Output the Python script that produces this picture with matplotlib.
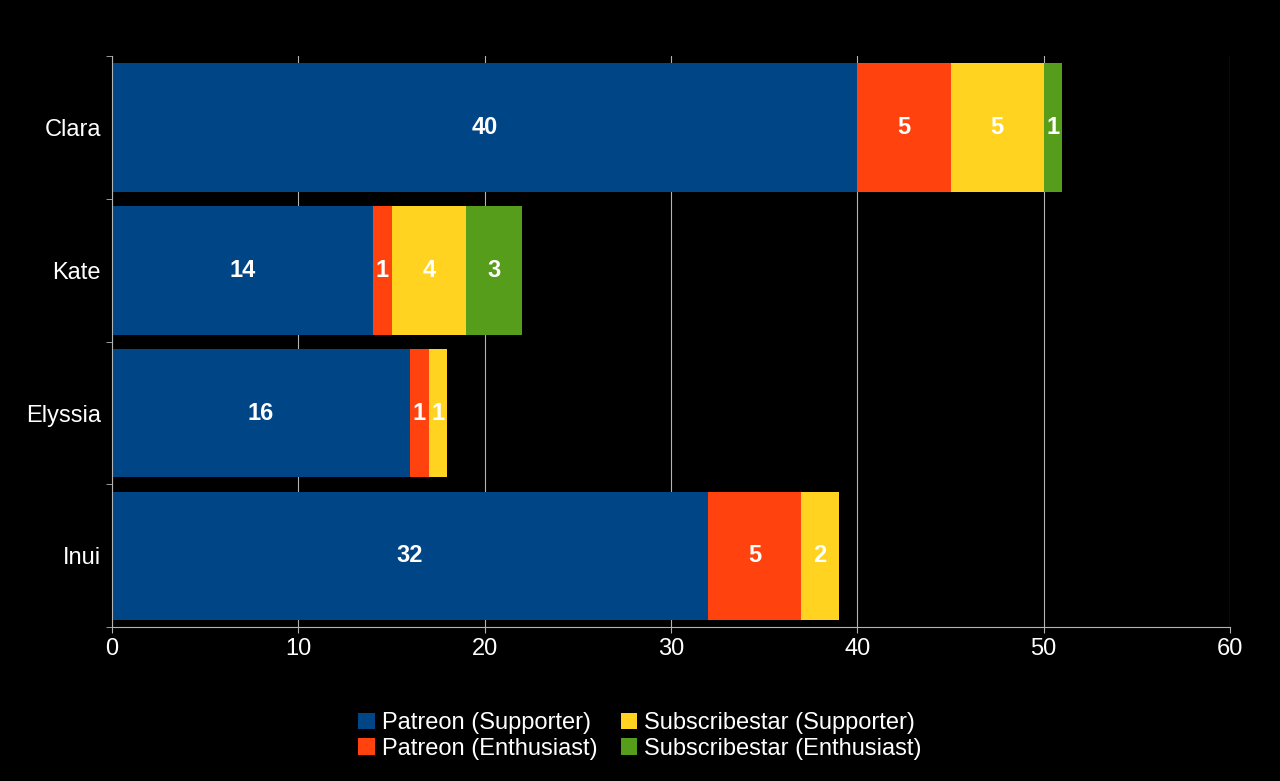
import matplotlib
matplotlib.use("Agg")
import matplotlib.pyplot as plt
import numpy as np

plt.rcParams['font.family'] = ['Liberation Sans', 'DejaVu Sans']

names = ["Clara", "Kate", "Elyssia", "Inui"]
series = ["Patreon (Supporter)", "Patreon (Enthusiast)",
          "Subscribestar (Supporter)", "Subscribestar (Enthusiast)"]
patreon_sup = [40, 14, 16, 32]
patreon_ent = [5, 1, 1, 5]
subs_sup = [5, 4, 1, 2]
subs_ent = [1, 3, 0, 0]
colors = ["#004586", "#ff420e", "#ffd320", "#579d1c"]

fig = plt.figure(figsize=(12.8, 7.81), dpi=100, facecolor="black")
ax = fig.add_axes([0.0875, 0.197, 0.8735, 0.731], facecolor="black")

y = np.arange(len(names))
left = np.zeros(len(names))
for vals, col, lab in zip([patreon_sup, patreon_ent, subs_sup, subs_ent], colors, series):
    vals = np.array(vals, dtype=float)
    bars = ax.barh(y, vals, left=left, height=0.9, color=col, label=lab, zorder=2)
    for b, v in zip(bars, vals):
        if v > 0:
            ax.text(b.get_x() + b.get_width() / 2, b.get_y() + b.get_height() / 2,
                    f"{int(v)}", ha="center", va="center", color="white",
                    fontsize=17, fontweight="bold", zorder=3)
    left += vals

ax.set_xlim(0, 60)
ax.set_ylim(len(names) - 0.5, -0.5)
ax.set_xticks(range(0, 61, 10))
ax.set_yticks(y)
ax.set_yticklabels(names)
ax.set_yticks(np.arange(-0.5, len(names), 1), minor=True)
ax.tick_params(axis="y", which="major", length=0, labelsize=17, colors="white", pad=8)
ax.tick_params(axis="y", which="minor", length=4, color="#b3b3b3")
ax.tick_params(axis="x", length=4, color="#b3b3b3", labelsize=17, colors="white")
ax.grid(axis="x", color="#b3b3b3", linewidth=0.8, zorder=0)
for s in ["top", "right"]:
    ax.spines[s].set_visible(False)
for s in ["left", "bottom"]:
    ax.spines[s].set_color("#b3b3b3")

leg = fig.legend(loc="lower center", bbox_to_anchor=(0.5, 0.0), ncol=2,
                 frameon=False, fontsize=17, labelcolor="white",
                 handlelength=0.7, handleheight=0.7, handletextpad=0.3,
                 columnspacing=1.0, labelspacing=0.15)
plt.savefig("out.png", dpi=100, facecolor="black")
